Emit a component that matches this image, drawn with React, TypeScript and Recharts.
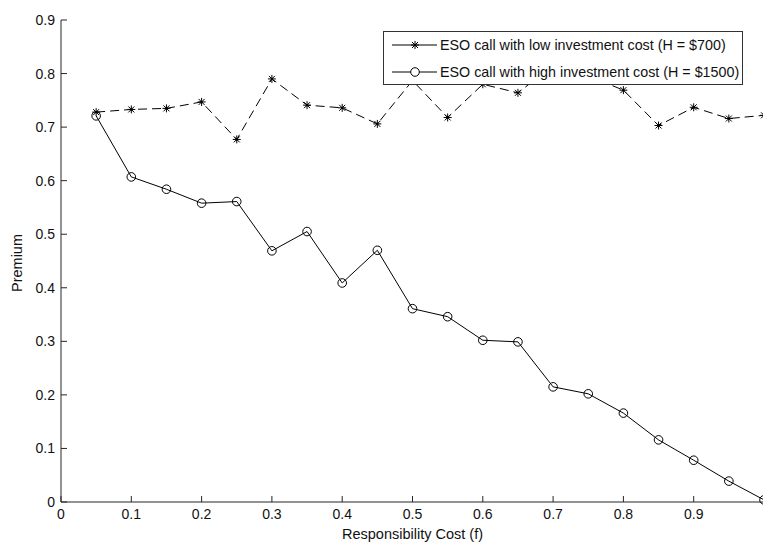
import React from "react";
import { LineChart, Line, XAxis, YAxis } from "recharts";

const costF = [0.05, 0.1, 0.15, 0.2, 0.25, 0.3, 0.35, 0.4, 0.45, 0.5, 0.55, 0.6, 0.65, 0.7, 0.75, 0.8, 0.85, 0.9, 0.95, 1.0];
const lowCost = [0.728, 0.733, 0.735, 0.747, 0.677, 0.79, 0.741, 0.736, 0.706, 0.787, 0.718, 0.78, 0.764, 0.815, 0.796, 0.769, 0.703, 0.737, 0.716, 0.722];
const highCost = [0.721, 0.607, 0.584, 0.558, 0.561, 0.469, 0.505, 0.409, 0.47, 0.361, 0.346, 0.302, 0.299, 0.215, 0.202, 0.166, 0.116, 0.078, 0.039, 0.004];

const xTicks = [0, 0.1, 0.2, 0.3, 0.4, 0.5, 0.6, 0.7, 0.8, 0.9, 1];
const xTickLabels = ["0", "0.1", "0.2", "0.3", "0.4", "0.5", "0.6", "0.7", "0.8", "0.9", ""];
const yTicks = [0, 0.1, 0.2, 0.3, 0.4, 0.5, 0.6, 0.7, 0.8, 0.9];
const yTickLabels = ["0", "0.1", "0.2", "0.3", "0.4", "0.5", "0.6", "0.7", "0.8", "0.9"];

const lowName = "ESO call with low investment cost (H = $700)";
const highName = "ESO call with high investment cost (H = $1500)";

const data = costF.map((f, i) => ({ f, low: lowCost[i], high: highCost[i] }));

const FONT = "'Liberation Sans', Arial, sans-serif";
const AX = "#262626";

const Star = ({ cx, cy }: { cx: number; cy: number }) => (
  <g stroke="#000" strokeWidth={1}>
    <line x1={cx - 4} y1={cy} x2={cx + 4} y2={cy} />
    <line x1={cx} y1={cy - 4} x2={cx} y2={cy + 4} />
    <line x1={cx - 3} y1={cy - 3} x2={cx + 3} y2={cy + 3} />
    <line x1={cx - 3} y1={cy + 3} x2={cx + 3} y2={cy - 3} />
    <circle cx={cx} cy={cy} r={1.2} fill="#000" stroke="none" />
  </g>
);

const renderStar = (p: any) => <Star key={`s${p.index}`} cx={p.cx} cy={p.cy} />;
const renderCircle = (p: any) => (
  <circle key={`c${p.index}`} cx={p.cx} cy={p.cy} r={4.3} fill="none" stroke="#000" strokeWidth={1} />
);

const BottomTick = (p: any) => (
  <g>
    <line x1={p.x} x2={p.x} y1={p.y} y2={p.y - 6} stroke={AX} />
    <text x={p.x} y={p.y + 17} textAnchor="middle" fontSize={14} fontFamily={FONT} fill="#111">
      {xTickLabels[p.index]}
    </text>
  </g>
);
const TopTick = (p: any) => (
  <line x1={p.x} x2={p.x} y1={p.y} y2={p.y + 6} stroke={AX} />
);
const LeftTick = (p: any) => (
  <g>
    <line x1={p.x} x2={p.x + 6} y1={p.y} y2={p.y} stroke={AX} />
    <text x={p.x - 6} y={p.y + 5} textAnchor="end" fontSize={14} fontFamily={FONT} fill="#111">
      {yTickLabels[p.index]}
    </text>
  </g>
);
const RightTick = (p: any) => (
  <line x1={p.x} x2={p.x - 6} y1={p.y} y2={p.y} stroke={AX} />
);

const LegendRow = ({ y, kind, text }: { y: number; kind: "star" | "circle"; text: string }) => (
  <g>
    <line x1={9} x2={54} y1={y} y2={y} stroke="#000" />
    {kind === "star" ? <Star cx={32} cy={y} /> : <circle cx={32} cy={y} r={4.3} fill="#fff" stroke="#000" />}
    <text x={57} y={y + 5} fontSize={14.3} fontFamily={FONT} fill="#111">{text}</text>
  </g>
);

export default function App() {
  return (
    <div style={{ position: "absolute", left: 0, top: 0, width: 763, height: 543, overflow: "hidden", background: "#fff" }}>
      <LineChart width={774} height={543} data={data} margin={{ top: 20, right: 10, left: 0, bottom: 0 }}>
        <XAxis
          dataKey="f"
          type="number"
          domain={[0, 1]}
          ticks={xTicks}
          interval={0}
          tickSize={0}
          tickMargin={0}
          tickLine={false}
          tick={BottomTick}
          height={41}
          axisLine={{ stroke: AX }}
          label={{
            content: (lp: any) => (
              <text x={lp.viewBox.x + lp.viewBox.width / 2} y={lp.viewBox.y + 37} textAnchor="middle" fontSize={14.5} fontFamily={FONT} fill="#111">
                Responsibility Cost (f)
              </text>
            ),
          }}
        />
        <XAxis
          xAxisId="top"
          orientation="top"
          dataKey="f"
          type="number"
          domain={[0, 1]}
          ticks={xTicks}
          interval={0}
          tickSize={0}
          tickMargin={0}
          tickLine={false}
          tick={TopTick}
          height={0}
          axisLine={{ stroke: AX }}
        />
        <YAxis
          type="number"
          domain={[0, 0.9]}
          ticks={yTicks}
          interval={0}
          tickSize={0}
          tickMargin={0}
          tickLine={false}
          tick={LeftTick}
          width={61}
          axisLine={{ stroke: AX }}
          label={{
            content: () => (
              <text x={22} y={263} transform="rotate(-90, 22, 263)" textAnchor="middle" fontSize={14.5} fontFamily={FONT} fill="#111">
                Premium
              </text>
            ),
          }}
        />
        <YAxis
          yAxisId="right"
          orientation="right"
          type="number"
          domain={[0, 0.9]}
          ticks={yTicks}
          interval={0}
          tickSize={0}
          tickMargin={0}
          tickLine={false}
          tick={RightTick}
          width={0}
          axisLine={{ stroke: AX }}
        />
        <Line dataKey="low" name={lowName} stroke="#000" strokeWidth={1} strokeDasharray="9 5" dot={renderStar} isAnimationActive={false} />
        <Line dataKey="high" name={highName} stroke="#000" strokeWidth={1} dot={renderCircle} isAnimationActive={false} />
      </LineChart>
      <svg style={{ position: "absolute", left: 383, top: 31 }} width={361} height={55}>
        <rect x={0.5} y={0.5} width={359} height={53} fill="#fff" stroke="#333" />
        <LegendRow y={14} kind="star" text={lowName} />
        <LegendRow y={41} kind="circle" text={highName} />
      </svg>
    </div>
  );
}
